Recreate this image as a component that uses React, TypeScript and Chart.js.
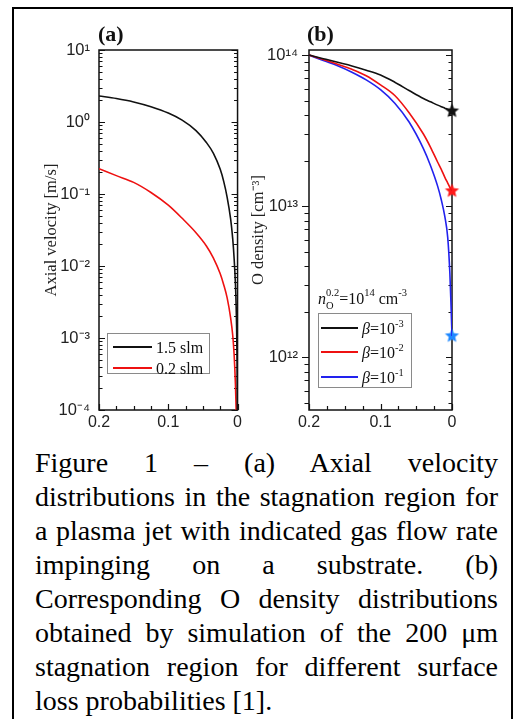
import React, { useEffect, useRef } from 'react';
import { Chart, registerables } from 'chart.js';

Chart.register(...registerables);

const SERIF = '"Liberation Serif", "Times New Roman", serif';
const SANS = '"Liberation Sans", Arial, sans-serif';

// ---------- Panel (a): axial velocity ----------
const positionA = [0.2, 0.175, 0.15, 0.125, 0.1, 0.08, 0.06, 0.045, 0.035, 0.025, 0.02, 0.015, 0.01, 0.007, 0.005, 0.003, 0.002, 0.001, 0.0005, 0];
const velocity15slm = [2.3, 2.12, 1.9, 1.63, 1.33, 1.06, 0.76, 0.52, 0.37, 0.22, 0.15, 0.09, 0.045, 0.024, 0.013, 0.0055, 0.0027, 0.0008, 0.0002, 0.000001];
const velocity02slm = [0.225, 0.18, 0.145, 0.105, 0.07, 0.046, 0.029, 0.019, 0.013, 0.0078, 0.0055, 0.0036, 0.0019, 0.0011, 0.0006, 0.00022, 0.0001, 0.000028, 0.000007, 0.00000001];
const seriesLabelsA = ['1.5 slm', '0.2 slm'];
const yTicksA = [1e-4, 1e-3, 1e-2, 1e-1, 1, 10];

// ---------- Panel (b): O density ----------
const positionB = [0.2, 0.18, 0.16, 0.14, 0.12, 0.1, 0.08, 0.06, 0.04, 0.03, 0.02, 0.015, 0.01, 0.006, 0.003, 0.0015, 0];
const densityBeta3 = [1e14, 9.46e13, 8.95e13, 8.47e13, 7.94e13, 7.38e13, 6.61e13, 5.82e13, 5.15e13, 4.9e13, 4.66e13, 4.55e13, 4.45e13, 4.37e13, 4.32e13, 4.29e13, 4.27e13];
const densityBeta2 = [1e14, 9.35e13, 8.7e13, 8.05e13, 7.3e13, 6.35e13, 5.4e13, 4.15e13, 3.0e13, 2.45e13, 1.95e13, 1.75e13, 1.55e13, 1.42e13, 1.33e13, 1.29e13, 1.26e13];
const densityBeta1 = [1e14, 9.2e13, 8.5e13, 7.7e13, 6.85e13, 5.9e13, 4.8e13, 3.6e13, 2.4e13, 1.85e13, 1.35e13, 1.1e13, 8.5e12, 6.2e12, 3.6e12, 2.3e12, 1.38e12];
const surfaceDensity = [4.26e13, 1.26e13, 1.38e12];
const seriesLabelsB = ['β=10⁻³', 'β=10⁻²', 'β=10⁻¹'];
const yTicksB = [1e12, 1e13, 1e14];

const xTickValues = [0.2, 0.1, 0];

const caption =
  'Figure 1 – (a) Axial velocity distributions in the stagnation region for a plasma jet with indicated gas flow rate impinging on a substrate. (b) Corresponding O density distributions obtained by simulation of the 200 μm stagnation region for different surface loss probabilities [1].';

const SUP: Record<string, string> = { '⁰': '0', '¹': '1', '²': '2', '³': '3', '⁴': '4', '⁵': '5', '⁶': '6', '⁷': '7', '⁸': '8', '⁹': '9', '⁻': '-' };
const TO_SUP: Record<string, string> = { '0': '⁰', '1': '¹', '2': '²', '3': '³', '4': '⁴', '5': '⁵', '6': '⁶', '7': '⁷', '8': '⁸', '9': '⁹', '-': '⁻' };
const sup = (n: number) => String(n).split('').map((c) => TO_SUP[c] || c).join('');

function drawRich(ctx: CanvasRenderingContext2D, text: string, x: number, y: number, size: number) {
  let i = 0;
  while (i < text.length) {
    const ch = text[i];
    let run = '';
    let kind = 'n';
    if (SUP[ch]) {
      kind = 'sup';
      while (i < text.length && SUP[text[i]]) { run += SUP[text[i]]; i++; }
    } else if (ch === 'β') {
      kind = 'it'; run = ch; i++;
    } else {
      while (i < text.length && !SUP[text[i]] && text[i] !== 'β') { run += text[i]; i++; }
    }
    if (kind === 'sup') {
      ctx.font = `${size * 0.65}px ${SERIF}`;
      ctx.fillText(run, x, y - size * 0.42);
    } else if (kind === 'it') {
      ctx.font = `italic ${size}px ${SERIF}`;
      ctx.fillText(run, x, y);
    } else {
      ctx.font = `${size}px ${SERIF}`;
      ctx.fillText(run, x, y);
    }
    x += ctx.measureText(run).width;
  }
}

function makeStar(color: string, r: number) {
  const c = document.createElement('canvas');
  const s = Math.ceil(r * 2 + 2);
  c.width = s; c.height = s;
  const ctx = c.getContext('2d')!;
  ctx.beginPath();
  for (let i = 0; i < 10; i++) {
    const rad = i % 2 === 0 ? r : r * 0.45;
    const a = -Math.PI / 2 + (i * Math.PI) / 5;
    ctx.lineTo(s / 2 + rad * Math.cos(a), s / 2 + rad * Math.sin(a));
  }
  ctx.closePath();
  ctx.fillStyle = color;
  ctx.fill();
  return c;
}

function frameTicks(leftOut: boolean) {
  return {
    id: 'frameTicks',
    beforeDatasetsDraw(chart: any) {
      const { ctx, chartArea: a, scales } = chart;
      const x = scales.x, y = scales.y;
      ctx.save();
      ctx.strokeStyle = '#111';
      ctx.lineWidth = 1.5;
      ctx.strokeRect(a.left, a.top, a.right - a.left, a.bottom - a.top);
      ctx.lineWidth = 1.2;
      ctx.beginPath();
      const lo = Math.floor(Math.log10(y.min)), hi = Math.ceil(Math.log10(y.max));
      for (let d = lo; d <= hi; d++) {
        for (let m = 1; m <= 9; m++) {
          const v = m * Math.pow(10, d);
          if (v < y.min * 0.999 || v > y.max * 1.001) continue;
          const py = Math.round(y.getPixelForValue(v)) + 0.5;
          const len = m === 1 ? 6 : 3.5;
          if (leftOut) { ctx.moveTo(a.left, py); ctx.lineTo(a.left - len - 1, py); }
          else { ctx.moveTo(a.left, py); ctx.lineTo(a.left + len, py); }
          ctx.moveTo(a.right, py); ctx.lineTo(a.right - len, py);
        }
      }
      for (let k = 0; k <= 8; k++) {
        const px = Math.round(x.getPixelForValue(k * 0.025)) + 0.5;
        const len = k % 4 === 0 ? 6 : 4;
        ctx.moveTo(px, a.bottom); ctx.lineTo(px, a.bottom - len);
      }
      ctx.stroke();
      ctx.restore();
    },
  };
}

function legendBox(box: { dx: number; dy: number; w: number; h: number; rows: number[]; l0: number; l1: number; tx: number }) {
  return {
    id: 'legendBox',
    afterDraw(chart: any) {
      const { ctx, chartArea: a } = chart;
      const left = a.left + box.dx, top = a.top + box.dy;
      ctx.save();
      ctx.fillStyle = '#fff';
      ctx.fillRect(left, top, box.w, box.h);
      ctx.strokeStyle = '#8a8a8a';
      ctx.lineWidth = 1;
      ctx.strokeRect(left + 0.5, top + 0.5, box.w, box.h);
      const ds = chart.data.datasets.filter((d: any) => d.showLine !== false);
      ds.forEach((d: any, i: number) => {
        const yy = top + box.rows[i];
        ctx.strokeStyle = d.borderColor;
        ctx.lineWidth = 2;
        ctx.beginPath();
        ctx.moveTo(left + box.l0, yy);
        ctx.lineTo(left + box.l1, yy);
        ctx.stroke();
        ctx.fillStyle = '#111';
        ctx.textBaseline = 'alphabetic';
        drawRich(ctx, d.label, left + box.tx, yy + 5.5, 16);
      });
      ctx.restore();
    },
  };
}

function panelLabel(text: string, dx: number, extra?: (ctx: CanvasRenderingContext2D, a: any) => void) {
  return {
    id: 'panelLabel',
    afterDraw(chart: any) {
      const { ctx, chartArea: a } = chart;
      ctx.save();
      ctx.fillStyle = '#111';
      ctx.textBaseline = 'alphabetic';
      ctx.font = `bold 22px ${SERIF}`;
      ctx.fillText(text, a.left + dx, a.top - 9);
      if (extra) extra(ctx, a);
      ctx.restore();
    },
  };
}

function densityNote(ctx: CanvasRenderingContext2D, a: any) {
  let x = a.left + 9;
  const b = a.top + 254;
  ctx.font = `italic 16px ${SERIF}`;
  ctx.fillText('n', x, b);
  x += ctx.measureText('n').width;
  ctx.font = `10.5px ${SERIF}`;
  ctx.fillText('O', x, b + 5);
  const w1 = ctx.measureText('O').width;
  ctx.fillText('0.2', x, b - 8);
  const w2 = ctx.measureText('0.2').width;
  x += Math.max(w1, w2);
  ctx.font = `16px ${SERIF}`;
  ctx.fillText('=10', x, b);
  x += ctx.measureText('=10').width;
  ctx.font = `10.5px ${SERIF}`;
  ctx.fillText('14', x, b - 8);
  x += ctx.measureText('14').width;
  ctx.font = `16px ${SERIF}`;
  ctx.fillText(' cm', x, b);
  x += ctx.measureText(' cm').width;
  ctx.font = `10.5px ${SERIF}`;
  ctx.fillText('-3', x, b - 8);
}

function xScale() {
  return {
    type: 'linear',
    min: 0,
    max: 0.2,
    reverse: true,
    grid: { display: false, drawTicks: false },
    border: { display: false },
    afterBuildTicks: (s: any) => { s.ticks = xTickValues.map((v) => ({ value: v })); },
    afterFit: (s: any) => { s.height = 30; },
    ticks: {
      autoSkip: false,
      maxRotation: 0,
      padding: 3,
      color: '#222',
      font: { family: SANS, size: 16 },
      callback: (v: any) => String(v),
    },
  };
}

function yScale(min: number, max: number, ticks: number[], width: number, pad: number, title: string, titlePad: number) {
  return {
    type: 'logarithmic',
    min,
    max,
    grid: { display: false, drawTicks: false },
    border: { display: false },
    afterBuildTicks: (s: any) => { s.ticks = ticks.map((v) => ({ value: v })); },
    afterFit: (s: any) => { s.width = width; },
    ticks: {
      autoSkip: false,
      padding: pad,
      color: '#222',
      font: { family: SANS, size: 16.5 },
      callback: (v: any) => '10' + sup(Math.round(Math.log10(Number(v)))),
    },
    title: {
      display: true,
      text: title,
      color: '#222',
      font: { family: SERIF, size: 16.5 },
      padding: { top: titlePad, bottom: 0 },
    },
  };
}

export default function App() {
  const refA = useRef<HTMLCanvasElement>(null);
  const refB = useRef<HTMLCanvasElement>(null);

  useEffect(() => {
    const lineDs = (label: string, xs: number[], ys: number[], color: string) => ({
      label,
      data: xs.map((x, i) => ({ x, y: ys[i] })),
      borderColor: color,
      backgroundColor: color,
      borderWidth: 1.6,
      pointRadius: 0,
      cubicInterpolationMode: 'monotone',
      fill: false,
    });

    const chartA = new Chart(refA.current!, {
      type: 'line',
      data: {
        datasets: [
          lineDs(seriesLabelsA[0], positionA, velocity15slm, '#111111'),
          lineDs(seriesLabelsA[1], positionA, velocity02slm, '#ee1111'),
        ],
      },
      options: {
        animation: false,
        responsive: false,
        devicePixelRatio: 1,
        layout: { padding: { top: 42, right: 4, left: 0, bottom: 0 } },
        plugins: { legend: { display: false }, tooltip: { enabled: false } },
        scales: {
          x: xScale(),
          y: yScale(1e-4, 10, yTicksA, 85, 9, 'Axial velocity [m/s]', 28),
        },
      } as any,
      plugins: [
        frameTicks(false),
        legendBox({ dx: 8, dy: 283, w: 102, h: 40, rows: [14, 35], l0: 6, l1: 45, tx: 49 }),
        panelLabel('(a)', -1),
      ],
    } as any);

    const starColors = ['#111111', '#ff1a1a', '#1e88ff'];
    const starSets = surfaceDensity.map((v, i) => ({
      label: '',
      data: [{ x: 0, y: v }],
      showLine: false,
      pointStyle: makeStar(starColors[i], 7.5),
      pointRadius: 7,
      clip: false,
    }));

    const chartB = new Chart(refB.current!, {
      type: 'line',
      data: {
        datasets: [
          lineDs(seriesLabelsB[0], positionB, densityBeta3, '#111111'),
          lineDs(seriesLabelsB[1], positionB, densityBeta2, '#ee1111'),
          lineDs(seriesLabelsB[2], positionB, densityBeta1, '#2222ee'),
          ...starSets,
        ],
      },
      options: {
        animation: false,
        responsive: false,
        devicePixelRatio: 1,
        layout: { padding: { top: 42, right: 58, left: 0, bottom: 0 } },
        plugins: { legend: { display: false }, tooltip: { enabled: false } },
        scales: {
          x: xScale(),
          y: yScale(4.46e11, 1.08e14, yTicksB, 64, 11, 'O density [cm⁻³]', 4),
        },
      } as any,
      plugins: [
        frameTicks(true),
        legendBox({ dx: 9, dy: 263, w: 93, h: 74, rows: [15, 39, 64], l0: 3, l1: 40, tx: 44 }),
        panelLabel('(b)', -2, densityNote),
      ],
    } as any);

    return () => {
      chartA.destroy();
      chartB.destroy();
    };
  }, []);

  return (
    <div style={{ position: 'absolute', left: 0, top: 0, width: 514, height: 719, overflow: 'hidden', background: '#fff' }}>
      <div style={{ position: 'absolute', left: 12, top: 7, width: 497, height: 740, border: '2px solid #000' }} />
      <canvas ref={refA} width={231} height={432} style={{ position: 'absolute', left: 14, top: 8, width: 231, height: 432 }} />
      <canvas ref={refB} width={265} height={432} style={{ position: 'absolute', left: 245, top: 8, width: 265, height: 432 }} />
      <div
        style={{
          position: 'absolute',
          left: 35,
          top: 446,
          width: 463,
          fontFamily: SERIF,
          fontSize: 28,
          lineHeight: '34px',
          textAlign: 'justify',
          color: '#000',
        }}
      >
        {caption}
      </div>
    </div>
  );
}
